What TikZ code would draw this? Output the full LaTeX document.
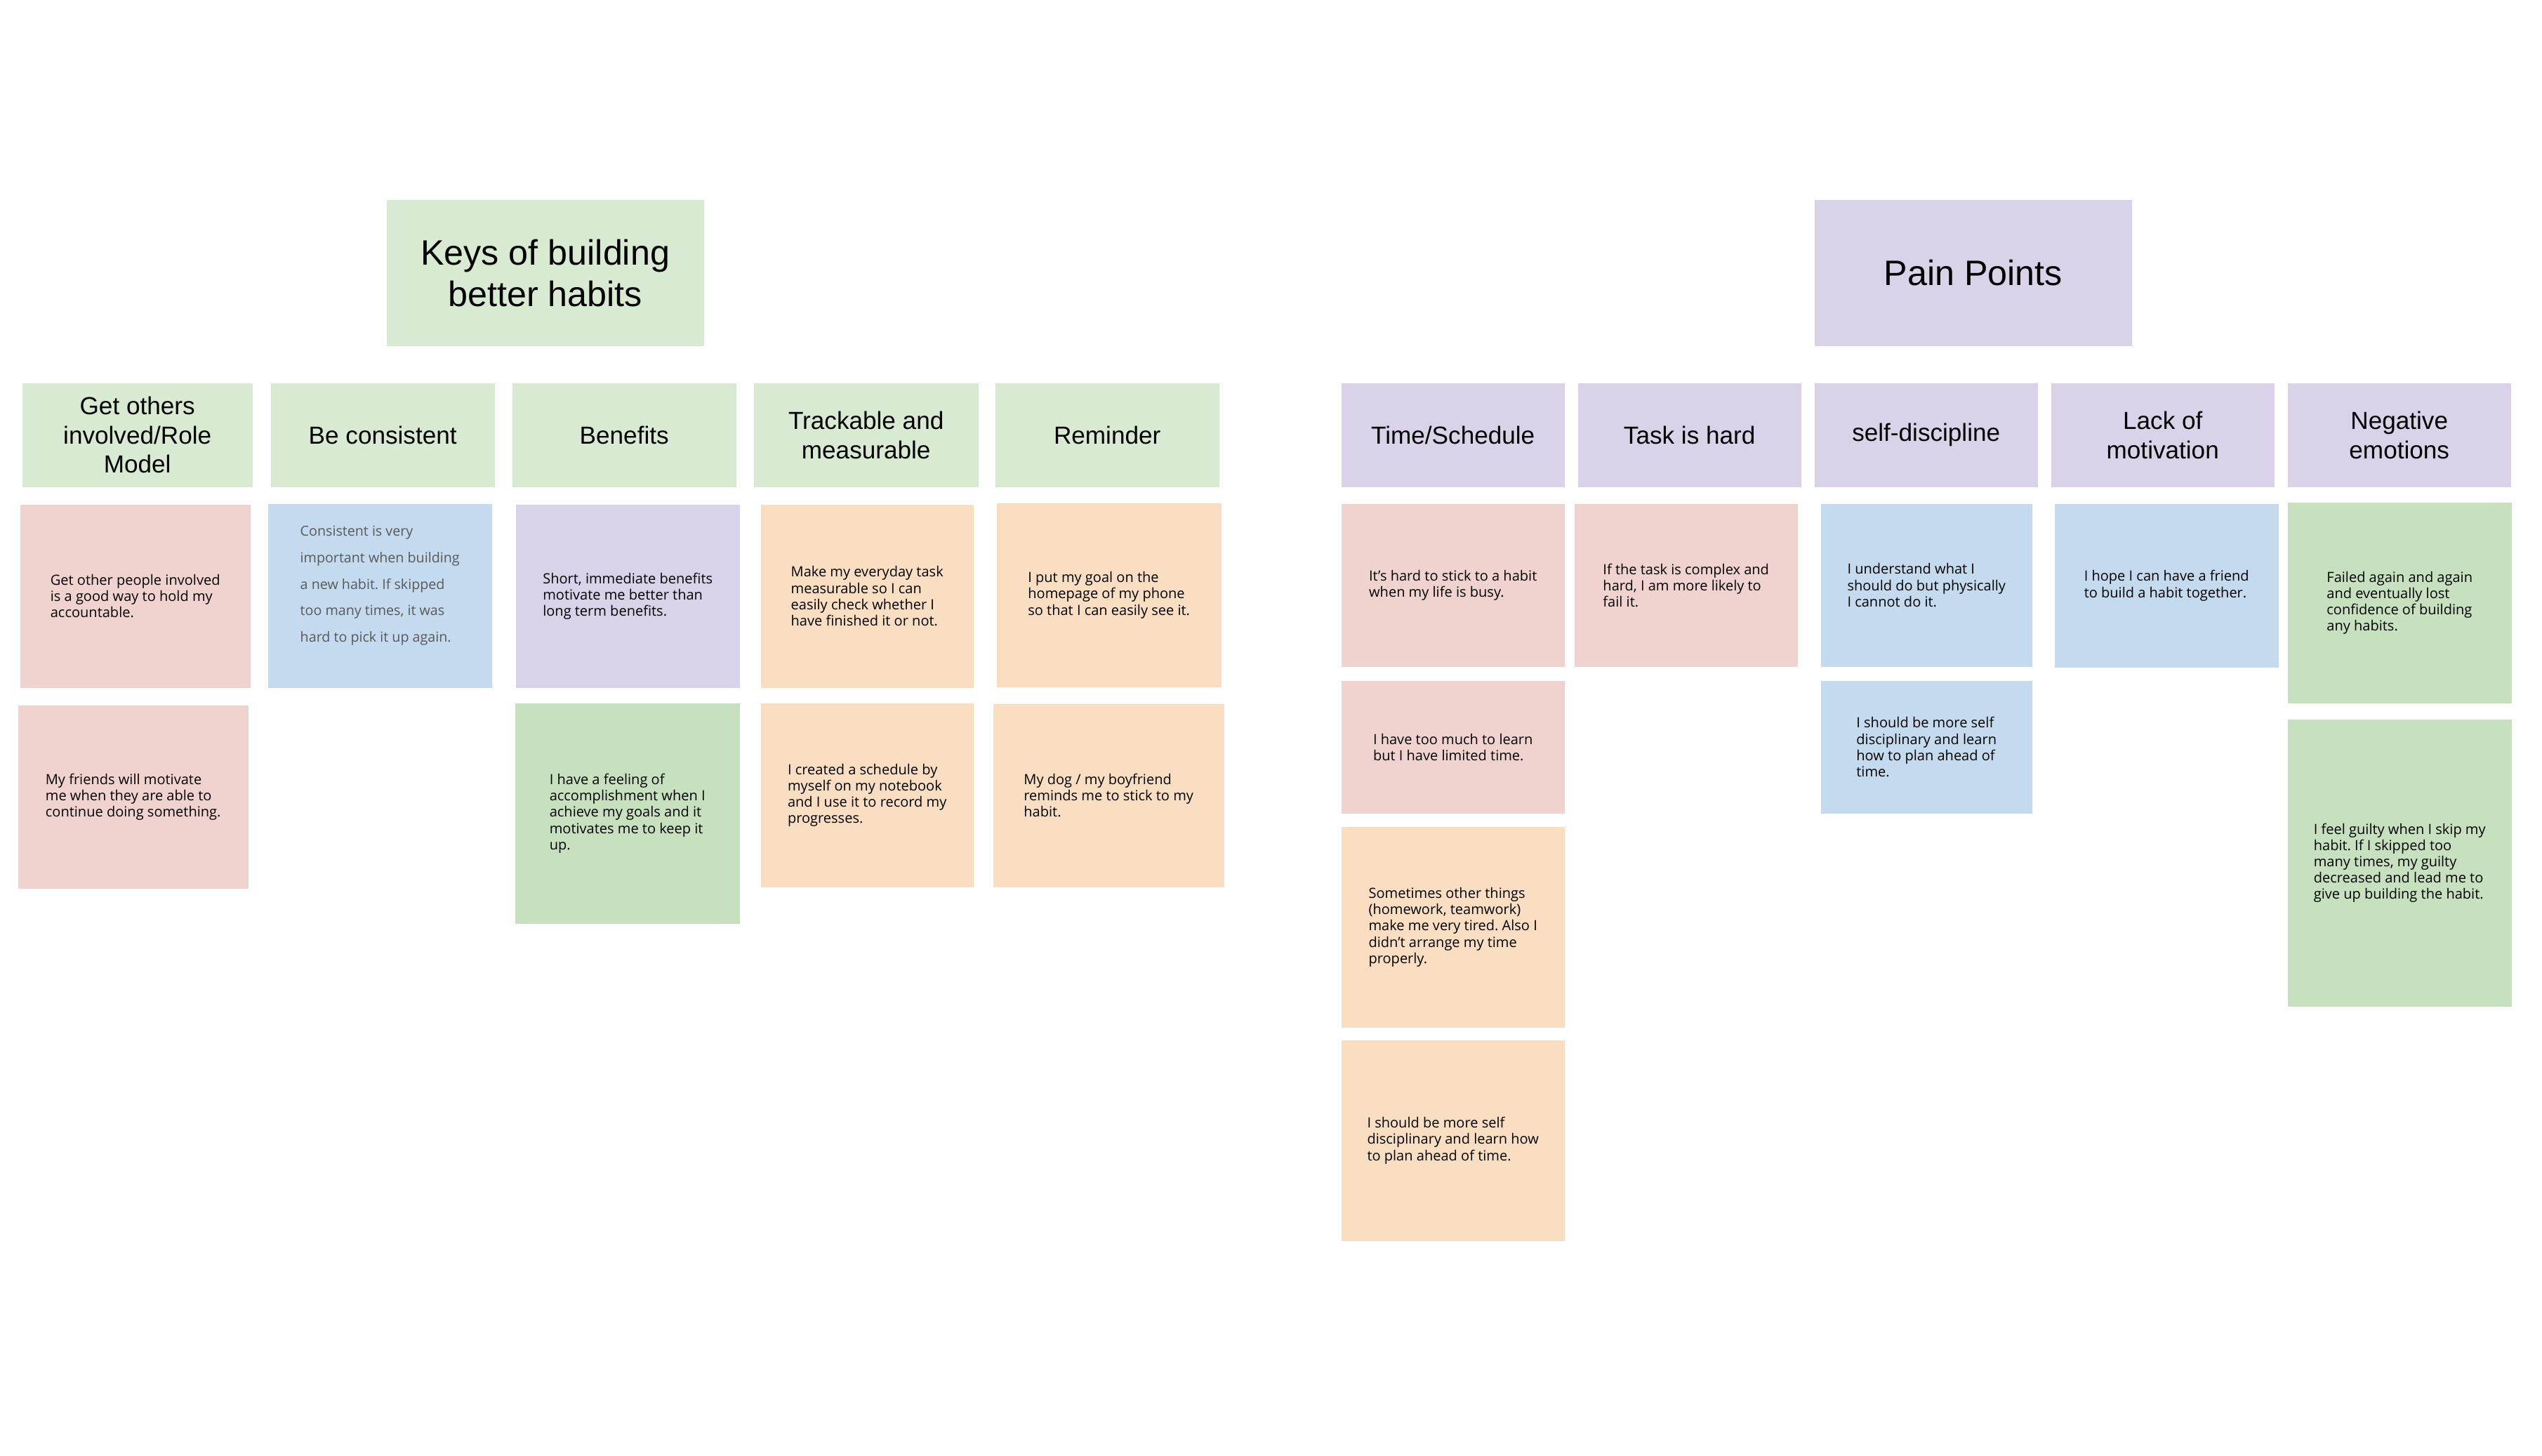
\documentclass[tikz,border=0pt]{standalone}
\usepackage{fontspec}
\setmainfont{Open Sans}
\newfontfamily\headfont{Liberation Sans}
\frenchspacing

\definecolor{keygreen}{HTML}{D9EAD3}
\definecolor{painpurple}{HTML}{D9D2E9}
\definecolor{notered}{HTML}{F0D3CF}
\definecolor{noteblue}{HTML}{C4DAEF}
\definecolor{notegreen}{HTML}{C7E0BD}
\definecolor{noteorange}{HTML}{F9DEC1}
\definecolor{notegrey}{HTML}{595959}

\tikzset{
  bigtitle/.style={anchor=north west, minimum width=4.52cm, minimum height=2.08cm,
    inner sep=0pt, align=center, font=\headfont\fontsize{14.3}{16.8}\selectfont},
  head/.style={anchor=north west, minimum width=3.19cm, minimum height=1.48cm,
    inner sep=0pt, align=center, font=\headfont\fontsize{10}{11.8}\selectfont},
  note/.style={anchor=north west, inner sep=0pt, align=left,
    font=\fontsize{5.7}{6.6}\selectfont},
}

\begin{document}
\begin{tikzpicture}
  \useasboundingbox (0,0) rectangle (36.21,-20.73);

  % keys of building better habits
  \node[bigtitle, fill=keygreen] (keys) at (5.50,-2.84) {Keys of building\\better habits};

  \node[head, fill=keygreen, minimum width=3.28cm] (others) at (0.31,-5.45) {Get others\\involved/Role\\Model};
  \node[head, fill=keygreen] (consistent) at (3.85,-5.45) {Be consistent};
  \node[head, fill=keygreen] (benefits) at (7.29,-5.45) {Benefits};
  \node[head, fill=keygreen, minimum width=3.20cm] (trackable) at (10.73,-5.45) {Trackable and\\measurable};
  \node[head, fill=keygreen] (reminder) at (14.17,-5.45) {Reminder};

  \node[note, fill=notered, minimum width=3.28cm, minimum height=2.61cm] (others1) at (0.28,-7.18)
    {Get other people involved\\is a good way to hold my\\accountable.};
  \node[note, fill=notered, minimum width=3.28cm, minimum height=2.61cm] (others2) at (0.25,-10.04)
    {My friends will motivate\\me when they are able to\\continue doing something.};
  \node[note, fill=noteblue, minimum width=3.19cm, minimum height=2.62cm, text=notegrey,
    font=\fontsize{5.6}{10.7}\selectfont] (consistent1) at (3.81,-7.17)
    {Consistent is very\\important when building\\a new habit. If skipped\\too many times, it was\\hard to pick it up again.\\[-0.04cm]\mbox{}};
  \node[note, fill=painpurple, minimum width=3.19cm, minimum height=2.61cm] (benefits1) at (7.34,-7.18)
    {Short, immediate benefits\\motivate me better than\\long term benefits.};
  \node[note, fill=notegreen, minimum width=3.20cm, minimum height=3.14cm] (benefits2) at (7.33,-10.01)
    {I have a feeling of\\accomplishment when I\\achieve my goals and it\\motivates me to keep it\\up.};
  \node[note, fill=noteorange, minimum width=3.03cm, minimum height=2.61cm] (trackable1) at (10.83,-7.18)
    {Make my everyday task\\measurable so I can\\easily check whether I\\have finished it or not.};
  \node[note, fill=noteorange, minimum width=3.03cm, minimum height=2.62cm] (trackable2) at (10.83,-10.01)
    {I created a schedule by\\myself on my notebook\\and I use it to record my\\progresses.};
  \node[note, fill=noteorange, minimum width=3.20cm, minimum height=2.62cm] (reminder1) at (14.19,-7.16)
    {I put my goal on the\\homepage of my phone\\so that I can easily see it.};
  \node[note, fill=noteorange, minimum width=3.29cm, minimum height=2.61cm] (reminder2) at (14.14,-10.02)
    {My dog / my boyfriend\\reminds me to stick to my\\habit.};

  % pain points
  \node[bigtitle, fill=painpurple] (pain) at (25.84,-2.84) {Pain Points};

  \node[head, fill=painpurple, minimum width=3.18cm] (time) at (19.10,-5.45) {Time/Schedule};
  \node[head, fill=painpurple, minimum width=3.18cm] (task) at (22.47,-5.45) {Task is hard};
  \node[head, fill=painpurple, minimum width=3.18cm] (discipline) at (25.84,-5.45) {self-discipline};
  \node[head, fill=painpurple, minimum width=3.18cm] (motivation) at (29.21,-5.45) {Lack of\\motivation};
  \node[head, fill=painpurple, minimum width=3.18cm] (emotions) at (32.58,-5.45) {Negative\\emotions};

  \node[note, fill=notered, minimum width=3.18cm, minimum height=2.32cm] (time1) at (19.10,-7.17)
    {It's hard to stick to a habit\\when my life is busy.};
  \node[note, fill=notered, minimum width=3.18cm, minimum height=1.89cm] (time2) at (19.10,-9.69)
    {I have too much to learn\\but I have limited time.};
  \node[note, fill=noteorange, minimum width=3.18cm, minimum height=2.86cm] (time3) at (19.10,-11.77)
    {Sometimes other things\\(homework, teamwork)\\make me very tired. Also I\\didn’t arrange my time\\properly.};
  \node[note, fill=noteorange, minimum width=3.18cm, minimum height=2.86cm] (time4) at (19.10,-14.81)
    {I should be more self\\disciplinary and learn how\\to plan ahead of time.};
  \node[note, fill=notered, minimum width=3.18cm, minimum height=2.32cm] (task1) at (22.42,-7.17)
    {If the task is complex and\\hard, I am more likely to\\fail it.};
  \node[note, fill=noteblue, minimum width=3.01cm, minimum height=2.32cm] (discipline1) at (25.93,-7.17)
    {I understand what I\\should do but physically\\I cannot do it.};
  \node[note, fill=noteblue, minimum width=3.01cm, minimum height=1.89cm] (discipline2) at (25.93,-9.69)
    {I should be more self\\disciplinary and learn\\how to plan ahead of\\time.};
  \node[note, fill=noteblue, minimum width=3.19cm, minimum height=2.33cm] (motivation1) at (29.26,-7.17)
    {I hope I can have a friend\\to build a habit together.};
  \node[note, fill=notegreen, minimum width=3.19cm, minimum height=2.86cm] (emotions1) at (32.58,-7.15)
    {Failed again and again\\and eventually lost\\confidence of building\\any habits.};
  \node[note, fill=notegreen, minimum width=3.19cm, minimum height=4.09cm] (emotions2) at (32.58,-10.24)
    {I feel guilty when I skip my\\habit. If I skipped too\\many times, my guilty\\decreased and lead me to\\give up building the habit.};
\end{tikzpicture}
\end{document}
